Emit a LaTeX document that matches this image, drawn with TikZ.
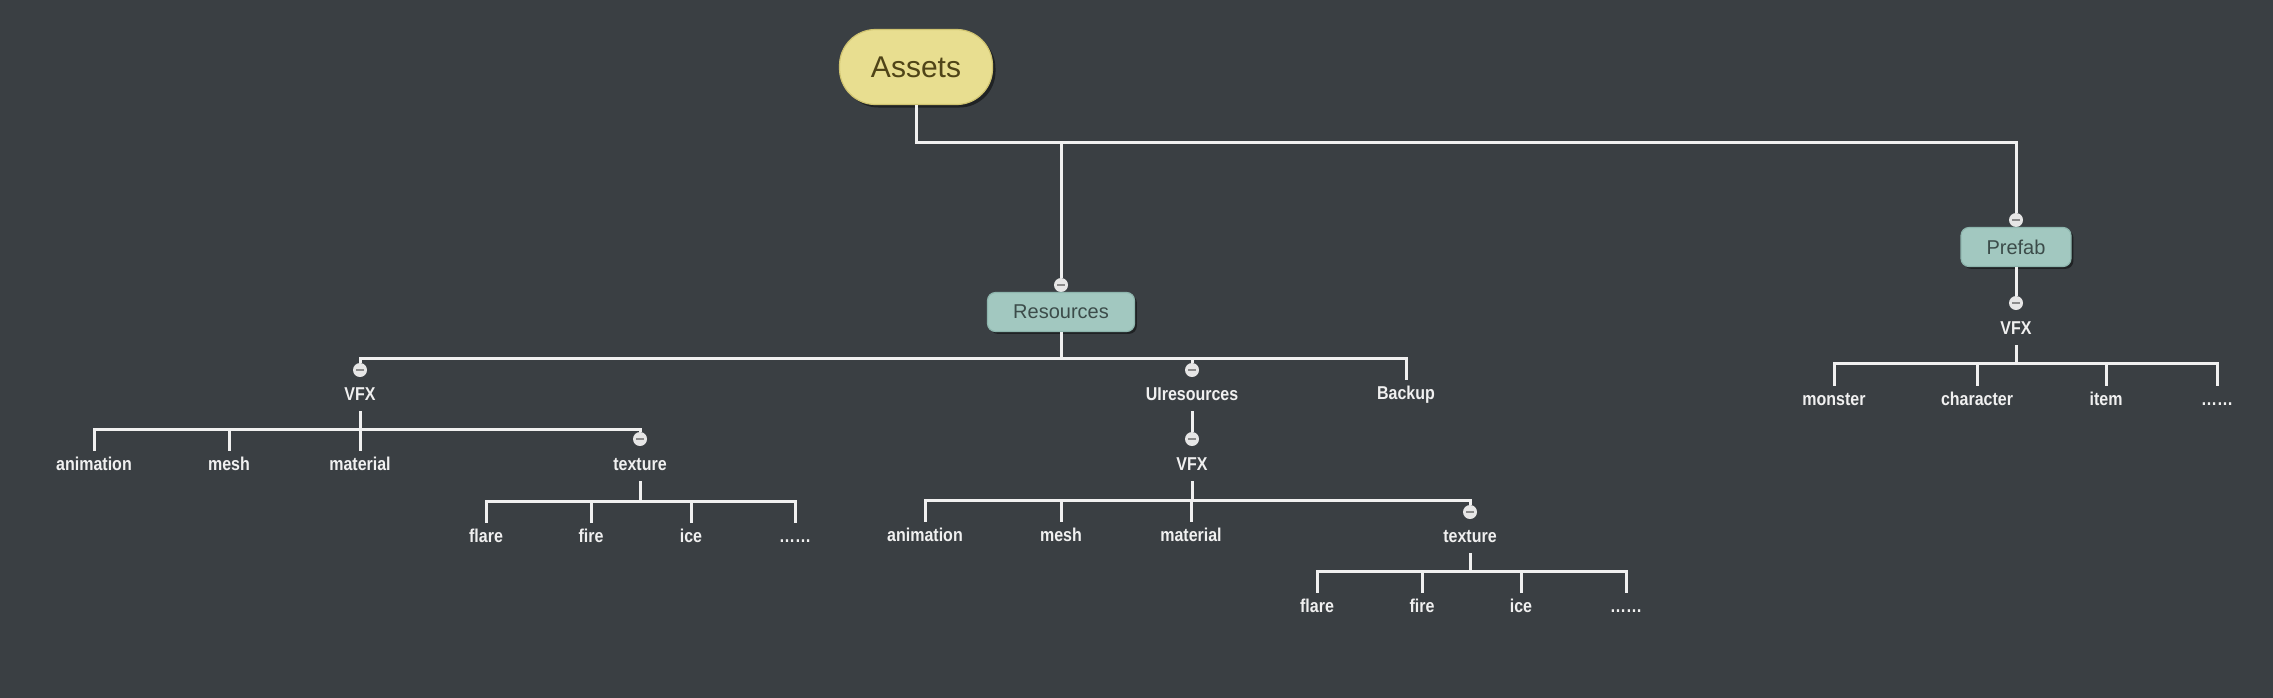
\documentclass[tikz,border=0pt]{standalone}
\usepackage{fontspec}
\setmainfont{Liberation Sans}
\newfontfamily\lblfont[FakeStretch=0.86]{Liberation Sans}
\usetikzlibrary{shadows}
\definecolor{bg}{HTML}{3A3F43}
\definecolor{linec}{HTML}{F0F0F0}
\definecolor{txtc}{HTML}{F0F0F0}
\definecolor{assetfill}{HTML}{E8DE90}
\definecolor{assetdraw}{HTML}{CFC370}
\definecolor{assettxt}{HTML}{4F4418}
\definecolor{resfill}{HTML}{A2C8C0}
\definecolor{resdraw}{HTML}{8DB5AD}
\definecolor{restxt}{HTML}{3C4C4A}
\definecolor{btnfill}{HTML}{E6E6E6}
\definecolor{btnmark}{HTML}{8A8A8A}
\begin{document}
\begin{tikzpicture}[x=0.5pt,y=-0.5pt,
  conn/.style={draw=linec,line width=1.5pt},
  lbl/.style={text=txtc,font=\lblfont\bfseries\fontsize{9.3}{10}\selectfont,
    inner xsep=1pt,inner ysep=3.25pt,text height=6.5pt,text depth=2pt},
  rootbox/.style={fill=assetfill,draw=assetdraw,line width=0.6pt,rounded corners=18pt,
    minimum width=76.5pt,minimum height=37.5pt,text=assettxt,
    font=\fontsize{15}{18}\selectfont,
    drop shadow={shadow xshift=1.5pt,shadow yshift=-1.5pt,opacity=0.45,fill=black}},
  subbox/.style={fill=resfill,draw=resdraw,line width=0.6pt,rounded corners=4pt,
    minimum height=19.5pt,text=restxt,font=\fontsize{10}{12}\selectfont,
    drop shadow={shadow xshift=1.2pt,shadow yshift=-1.2pt,opacity=0.45,fill=black}},
  cbtn/.style={circle,fill=btnfill,minimum size=7pt,inner sep=0pt,
    font=\fontsize{4}{4}\selectfont}
]
\useasboundingbox (0,0) rectangle (2273,697);
\fill[bg] (-10,-10) rectangle (2283,707);

% bar levels
\coordinate (b0) at (0,142);
\coordinate (b1) at (0,358);
\coordinate (b2) at (0,429);
\coordinate (b3) at (0,501);
\coordinate (b4) at (0,500);
\coordinate (b5) at (0,571);
\coordinate (b6) at (0,363);

% root
\node[rootbox] (assets) at (916,67) {Assets};

% Resources branch
\node[cbtn] (cres) at (1061,285) {\textcolor{btnmark}{\rule[0pt]{3.6pt}{0.7pt}}};
\node[subbox,minimum width=73.5pt] (res) at (1061,312) {Resources};

\node[cbtn] (cvfx1) at (360,370) {\textcolor{btnmark}{\rule{3.6pt}{0.7pt}}};
\node[lbl] (vfx1) at (360,396) {VFX};
\node[cbtn] (cui) at (1192,370) {\textcolor{btnmark}{\rule{3.6pt}{0.7pt}}};
\node[lbl] (ui) at (1192,396) {UIresources};
\node[lbl] (bk) at (1406,395) {Backup};

\node[lbl] (anim1) at (94,466) {animation};
\node[lbl] (mesh1) at (229,466) {mesh};
\node[lbl] (mat1) at (360,466) {material};
\node[cbtn] (ctex1) at (640,439) {\textcolor{btnmark}{\rule{3.6pt}{0.7pt}}};
\node[lbl] (tex1) at (640,466) {texture};

\node[lbl] (flare1) at (486,538) {flare};
\node[lbl] (fire1) at (591,538) {fire};
\node[lbl] (ice1) at (691,538) {ice};
\node[lbl] (dots1) at (795,538) {……};

\node[cbtn] (cvfx2) at (1192,439) {\textcolor{btnmark}{\rule{3.6pt}{0.7pt}}};
\node[lbl] (vfx2) at (1192,466) {VFX};

\node[lbl] (anim2) at (925,537) {animation};
\node[lbl] (mesh2) at (1061,537) {mesh};
\node[lbl] (mat2) at (1191,537) {material};
\node[cbtn] (ctex2) at (1470,512) {\textcolor{btnmark}{\rule{3.6pt}{0.7pt}}};
\node[lbl] (tex2) at (1470,538) {texture};

\node[lbl] (flare2) at (1317,608) {flare};
\node[lbl] (fire2) at (1422,608) {fire};
\node[lbl] (ice2) at (1521,608) {ice};
\node[lbl] (dots2) at (1626,608) {……};

% Prefab branch
\node[cbtn] (cpre) at (2016,220) {\textcolor{btnmark}{\rule{3.6pt}{0.7pt}}};
\node[subbox,minimum width=55pt] (pre) at (2016,247) {Prefab};
\node[cbtn] (cvfx3) at (2016,303) {\textcolor{btnmark}{\rule{3.6pt}{0.7pt}}};
\node[lbl] (vfx3) at (2016,330) {VFX};

\node[lbl] (mon) at (1834,401) {monster};
\node[lbl] (chr) at (1977,401) {character};
\node[lbl] (itm) at (2106,401) {item};
\node[lbl] (dots3) at (2217,401) {……};

% connectors: root level
\draw[conn] (assets.south) -- (assets.south |- b0) -| (cpre.north);
\draw[conn] (cres.north |- b0) -- (cres.north);
\draw[conn] (pre.south) -- (cvfx3.north);

% Resources children
\draw[conn] (res.south) -- (res.south |- b1);
\draw[conn] (cvfx1.north) |- (bk.north |- b1) -- (bk.north);
\draw[conn] (cui.north |- b1) -- (cui.north);

% VFX (Resources)
\draw[conn] (vfx1.south) -- (vfx1.south |- b2);
\draw[conn] (anim1.north) |- (ctex1.north |- b2) -- (ctex1.north);
\draw[conn] (mesh1.north |- b2) -- (mesh1.north);
\draw[conn] (mat1.north |- b2) -- (mat1.north);

% texture (Resources/VFX)
\draw[conn] (tex1.south) -- (tex1.south |- b3);
\draw[conn] (flare1.north) |- (dots1.north |- b3) -- (dots1.north);
\draw[conn] (fire1.north |- b3) -- (fire1.north);
\draw[conn] (ice1.north |- b3) -- (ice1.north);

% UIresources
\draw[conn] (ui.south) -- (cvfx2.north);
\draw[conn] (vfx2.south) -- (vfx2.south |- b4);
\draw[conn] (anim2.north) |- (ctex2.north |- b4) -- (ctex2.north);
\draw[conn] (mesh2.north |- b4) -- (mesh2.north);
\draw[conn] (mat2.north |- b4) -- (mat2.north);

\draw[conn] (tex2.south) -- (tex2.south |- b5);
\draw[conn] (flare2.north) |- (dots2.north |- b5) -- (dots2.north);
\draw[conn] (fire2.north |- b5) -- (fire2.north);
\draw[conn] (ice2.north |- b5) -- (ice2.north);

% Prefab VFX
\draw[conn] (vfx3.south) -- (vfx3.south |- b6);
\draw[conn] (mon.north) |- (dots3.north |- b6) -- (dots3.north);
\draw[conn] (chr.north |- b6) -- (chr.north);
\draw[conn] (itm.north |- b6) -- (itm.north);
\end{tikzpicture}
\end{document}
